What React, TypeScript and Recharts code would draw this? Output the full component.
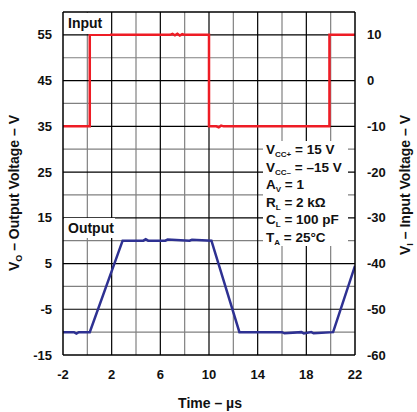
import { ComposedChart, Line, XAxis, YAxis, ReferenceLine } from 'recharts';

// time axis
const timeTicks = [-2, 0, 2, 4, 6, 8, 10, 12, 14, 16, 18, 20, 22];
const timeLabels = [-2, 2, 6, 10, 14, 18, 22];

// left axis (output) and right axis (input)
const outTicks = [-15, -10, -5, 0, 5, 10, 15, 20, 25, 30, 35, 40, 45, 50, 55, 60];
const outLabels = [-15, -5, 5, 15, 25, 35, 45, 55];
const inTicks = [-60, -55, -50, -45, -40, -35, -30, -25, -20, -15, -10, -5, 0, 5, 10, 15];
const inLabels = [-60, -50, -40, -30, -20, -10, 0, 10];

// grid lines
const xMajor = [2, 6, 10, 14, 18];
const xMinor = [0, 4, 8, 12, 16, 20];
const yMajor = [-5, 5, 15, 25, 35, 45, 55];
const yMinor = [-10, 0, 10, 20, 30, 40, 50];

// input step (V)
const inputTime = [-2, 0.2, 0.2, 6.8, 7.0, 7.2, 7.4, 7.6, 7.8, 8.0, 10.0, 10.0, 10.6, 10.8, 11.0, 11.2, 19.9, 19.9, 22];
const inputVolts = [-10, -10, 10, 10, 10.2, 9.9, 10.25, 9.85, 10.15, 10, 10, -10, -10, -10.2, -9.85, -10, -10, 10, 10];

// output response (V)
const outputTime = [-2, -1.1, -0.9, -0.7, 0.2, 2.9, 4.6, 4.8, 5.0, 6.4, 6.6, 8.4, 8.6, 10.2, 12.5, 16.0, 16.2, 17.6, 17.8, 18.4, 18.6, 20.2, 22];
const outputVolts = [-10, -10, -10.3, -10, -10, 10, 10, 10.3, 10, 10, 10.25, 10, 10.2, 10, -10, -10, -10.25, -10, -10.3, -10, -10.25, -10, 4.5];

const inputData = inputTime.map((t, i) => ({ t, v: inputVolts[i] }));
const outputData = outputTime.map((t, i) => ({ t, v: outputVolts[i] }));

const font = '"Liberation Sans", Arial, Helvetica, sans-serif';
const tickStyle = { fontSize: 13, fontWeight: 700, fill: '#111', fontFamily: font };

const sub = { fontSize: 8, position: 'relative' as const, top: 3, lineHeight: 0 };

export default function App() {
  return (
    <div style={{ position: 'absolute', left: 0, top: 0, width: 417, height: 412, background: '#fff', fontFamily: font, color: '#111' }}>
      <ComposedChart width={417} height={412} margin={{ top: 12, right: 0, left: 0, bottom: 0 }}>
        <XAxis
          type="number"
          dataKey="t"
          domain={[-2, 22]}
          ticks={timeTicks}
          tickFormatter={(v) => (timeLabels.includes(v) ? String(v) : '')}
          allowDataOverflow
          height={57}
          tickLine={false}
          tickMargin={9}
          tick={tickStyle}
          axisLine={{ stroke: '#000', strokeWidth: 1.5 }}
        />
        <YAxis
          yAxisId="left"
          type="number"
          domain={[-15, 60]}
          ticks={outTicks}
          tickFormatter={(v) => (outLabels.includes(v) ? String(v) : '')}
          width={63}
          tickLine={false}
          tickMargin={5}
          tick={tickStyle}
          axisLine={{ stroke: '#000', strokeWidth: 1.5 }}
        />
        <YAxis
          yAxisId="right"
          orientation="right"
          type="number"
          domain={[-60, 15]}
          ticks={inTicks}
          tickFormatter={(v) => (inLabels.includes(v) ? String(v) : '')}
          width={62}
          tickLine={false}
          tickMargin={6}
          tick={tickStyle}
          axisLine={{ stroke: '#000', strokeWidth: 1.5 }}
        />
        {xMinor.map((x) => (
          <ReferenceLine key={'xm' + x} x={x} yAxisId="left" stroke="#808080" strokeWidth={1.2} />
        ))}
        {yMinor.map((y) => (
          <ReferenceLine key={'ym' + y} y={y} yAxisId="left" stroke="#808080" strokeWidth={1.2} />
        ))}
        {xMajor.map((x) => (
          <ReferenceLine key={'xM' + x} x={x} yAxisId="left" stroke="#000" strokeWidth={1.2} />
        ))}
        {yMajor.map((y) => (
          <ReferenceLine key={'yM' + y} y={y} yAxisId="left" stroke="#000" strokeWidth={1.2} />
        ))}
        <ReferenceLine y={60} yAxisId="left" stroke="#000" strokeWidth={1.5} />
        <Line
          yAxisId="right"
          data={inputData}
          dataKey="v"
          type="linear"
          stroke="#ee1c25"
          strokeWidth={2.5}
          dot={false}
          isAnimationActive={false}
        />
        <Line
          yAxisId="left"
          data={outputData}
          dataKey="v"
          type="linear"
          stroke="#2e3192"
          strokeWidth={2.5}
          dot={false}
          isAnimationActive={false}
        />
      </ComposedChart>

      {/* series labels */}
      <div style={{ position: 'absolute', left: 64, top: 13, width: 46, height: 21, background: '#fff', fontSize: 14, fontWeight: 700, lineHeight: '20px', paddingLeft: 4, boxSizing: 'border-box' }}>
        Input
      </div>
      <div style={{ position: 'absolute', left: 64, top: 218, width: 51, height: 20, background: '#fff', fontSize: 14, fontWeight: 700, lineHeight: '20px', paddingLeft: 4, boxSizing: 'border-box' }}>
        Output
      </div>

      {/* conditions */}
      <div style={{ position: 'absolute', left: 263, top: 141, width: 85, height: 105, background: '#fff', fontSize: 13.5, fontWeight: 700, lineHeight: '17.5px', paddingLeft: 3, boxSizing: 'border-box', whiteSpace: 'nowrap' }}>
        <div>V<span style={sub}>CC+</span> = 15 V</div>
        <div>V<span style={sub}>CC–</span> = –15 V</div>
        <div>A<span style={sub}>V</span> = 1</div>
        <div>R<span style={sub}>L</span> = 2 kΩ</div>
        <div>C<span style={sub}>L</span> = 100 pF</div>
        <div>T<span style={sub}>A</span> = 25°C</div>
      </div>

      {/* axis titles */}
      <div style={{ position: 'absolute', left: 14, top: 193, transform: 'translate(-50%, -50%) rotate(-90deg)', fontSize: 14, fontWeight: 700, whiteSpace: 'nowrap' }}>
        V<span style={{ fontSize: 9, position: 'relative', top: 3, lineHeight: 0 }}>O</span> – Output Voltage – V
      </div>
      <div style={{ position: 'absolute', left: 405, top: 185, transform: 'translate(-50%, -50%) rotate(-90deg)', fontSize: 14, fontWeight: 700, whiteSpace: 'nowrap' }}>
        V<span style={{ fontSize: 9, position: 'relative', top: 3, lineHeight: 0 }}>I</span> – Input Voltage – V
      </div>
      <div style={{ position: 'absolute', left: 210, top: 403, transform: 'translate(-50%, -50%)', fontSize: 14, fontWeight: 700, whiteSpace: 'nowrap' }}>
        Time – µs
      </div>
    </div>
  );
}
